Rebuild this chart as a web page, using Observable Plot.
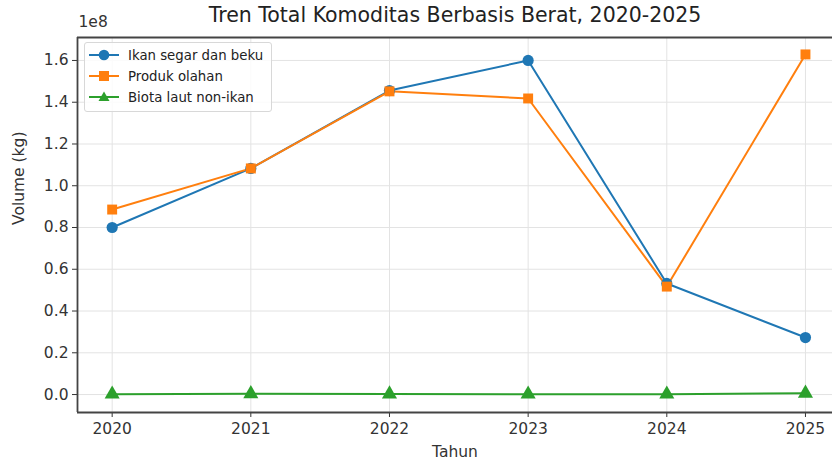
<!DOCTYPE html>
<html><head><meta charset="utf-8">
<script src="https://cdn.jsdelivr.net/npm/d3@7"></script>
<script src="https://cdn.jsdelivr.net/npm/@observablehq/plot@0.6"></script>
<style>
body{margin:0;background:#fff;font-family:"DejaVu Sans",sans-serif;}
#wrap{position:relative;width:832px;height:465px;}
#legend{position:absolute;left:84px;top:42px;width:186px;height:68px;border:1px solid #d8d8d8;border-radius:3px;background:rgba(255,255,255,0.85);font-size:13.3px;color:#222;}
.row{position:absolute;left:4px;height:20px;display:flex;align-items:center;white-space:nowrap;}
.row span{margin-left:9px;}
</style></head>
<body><div id="wrap"><div id="chart"></div><div id="legend"></div></div>
<script>
const years = [2020, 2021, 2022, 2023, 2024, 2025];
const seriesNames = ["Ikan segar dan beku", "Produk olahan", "Biota laut non-ikan"];
const ikan = [0.80e8, 1.083e8, 1.456e8, 1.60e8, 0.532e8, 0.273e8];
const produk = [0.886e8, 1.083e8, 1.452e8, 1.418e8, 0.517e8, 1.629e8];
const biota = [0.2e6, 0.35e6, 0.25e6, 0.18e6, 0.15e6, 0.6e6];
const yTicks = [0, 0.2e8, 0.4e8, 0.6e8, 0.8e8, 1.0e8, 1.2e8, 1.4e8, 1.6e8];
const colors = ["#1f77b4", "#ff7f0e", "#2ca02c"];
const symbols = ["circle", "square", "triangle"];

const values = [ikan, produk, biota];
const data = [];
seriesNames.forEach((s, i) => years.forEach((y, j) => data.push({series: s, year: y, value: values[i][j]})));

const xDom = [2019.75, 2025.195];
const yDom = [-0.086e8, 1.71e8];
const font = "DejaVu Sans, sans-serif";

const chart = Plot.plot({
  width: 832, height: 465,
  marginLeft: 77, marginRight: 0, marginTop: 37, marginBottom: 53,
  style: {fontFamily: font, fontSize: "15px", color: "#333", background: "#fff"},
  x: {domain: xDom, ticks: years, tickFormat: d => String(d), label: null},
  y: {domain: yDom, ticks: yTicks, tickFormat: d => (d / 1e8).toFixed(1), label: null},
  color: {domain: seriesNames, range: colors},
  symbol: {domain: seriesNames, range: symbols},
  marks: [
    Plot.gridX(years, {stroke: "#e3e3e3", strokeOpacity: 1, strokeWidth: 1}),
    Plot.gridY(yTicks, {stroke: "#e3e3e3", strokeOpacity: 1, strokeWidth: 1}),
    Plot.axisX({ticks: years, tickSize: 5, tickPadding: 5, fontSize: 15.5, stroke: "#333", tickFormat: d => String(d)}),
    Plot.axisY({ticks: yTicks, tickSize: 5, tickPadding: 4, fontSize: 15.5, stroke: "#333", tickFormat: d => (d / 1e8).toFixed(1)}),
    Plot.ruleX([xDom[0]], {stroke: "#444", strokeWidth: 1.8}),
    Plot.ruleY([yDom[0], yDom[1]], {stroke: "#444", strokeWidth: 1.8}),
    Plot.line(data, {x: "year", y: "value", z: "series", stroke: "series", strokeWidth: 2}),
    Plot.dot(data, {x: "year", y: "value", fill: "series", symbol: "series", r: 5.6, stroke: "none"}),
    Plot.text(["Tren Total Komoditas Berbasis Berat, 2020-2025"], {frameAnchor: "top", dy: -30, fontSize: 20.5, fill: "#222", lineAnchor: "top"}),
    Plot.text(["1e8"], {frameAnchor: "top-left", dy: -22, dx: 1, fontSize: 15.5, fill: "#333", textAnchor: "start", lineAnchor: "top"}),
    Plot.text(["Tahun"], {frameAnchor: "bottom", dy: 33, fontSize: 15.5, fill: "#333", lineAnchor: "top"}),
    Plot.text(["Volume (kg)"], {frameAnchor: "left", dx: -58, rotate: -90, fontSize: 15.5, fill: "#333"})
  ]
});
document.getElementById("chart").appendChild(chart);

const legend = document.getElementById("legend");
seriesNames.forEach((s, i) => {
  const row = document.createElement("div");
  row.className = "row";
  row.style.top = (2 + i * 21) + "px";
  const shape = i === 0 ? `<circle cx="15" cy="10" r="5.3" fill="${colors[i]}"/>`
    : i === 1 ? `<rect x="10" y="5" width="10" height="10" fill="${colors[i]}"/>`
    : `<polygon points="15,4.5 20.5,14 9.5,14" fill="${colors[i]}"/>`;
  row.innerHTML = `<svg width="30" height="20"><line x1="0" y1="10" x2="30" y2="10" stroke="${colors[i]}" stroke-width="2"/>${shape}</svg><span>${s}</span>`;
  legend.appendChild(row);
});
</script></body></html>
